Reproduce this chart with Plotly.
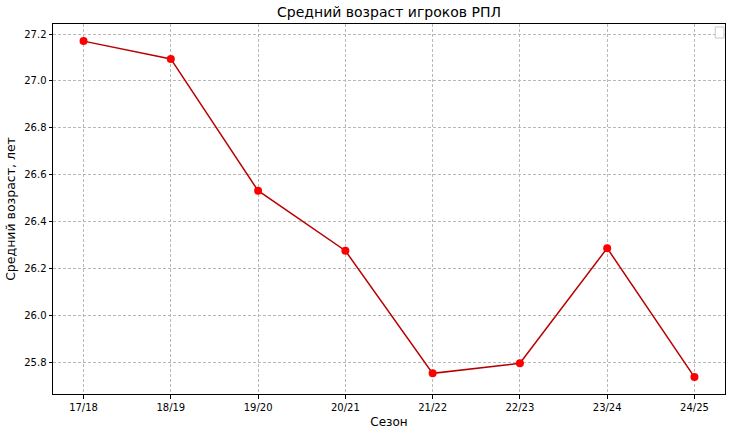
import plotly.graph_objects as go

seasons = ["17/18", "18/19", "19/20", "20/21", "21/22", "22/23", "23/24", "24/25"]
avg_age = [27.17, 27.094, 26.532, 26.276, 25.753, 25.796, 26.287, 25.737]
y_ticks = [25.8, 26.0, 26.2, 26.4, 26.6, 26.8, 27.0, 27.2]

fig = go.Figure()
fig.add_trace(go.Scatter(
    x=list(range(len(seasons))), y=avg_age, mode="lines+markers",
    line=dict(color="#b80000", width=1.5),
    marker=dict(color="#ff0000", size=8),
    showlegend=False,
))

W, H = 730, 439
fig.update_layout(
    width=W, height=H,
    margin=dict(l=53, r=5, t=24, b=45),
    paper_bgcolor="white", plot_bgcolor="white",
    font=dict(family="DejaVu Sans", color="black", size=10),
    title=dict(text="Средний возраст игроков РПЛ", x=0.5, xanchor="center",
               xref="paper", y=1 - 12 / H, yref="container", yanchor="middle",
               font=dict(size=14)),
    xaxis=dict(
        range=[-0.35, 7.35], tickmode="array",
        tickvals=list(range(len(seasons))), ticktext=seasons,
        showline=True, linecolor="black", linewidth=1, mirror=True,
        ticks="outside", ticklen=3.5, tickcolor="black",
        showgrid=True, gridcolor="#b8b8b8", griddash="3px,2px", gridwidth=0.8,
        zeroline=False, automargin=False,
        title=dict(text="Сезон", font=dict(size=12), standoff=6),
    ),
    yaxis=dict(
        range=[25.665, 27.243], tickmode="array",
        tickvals=y_ticks, ticktext=[f"{v:.1f}" for v in y_ticks],
        showline=True, linecolor="black", linewidth=1, mirror=True,
        ticks="outside", ticklen=3.5, tickcolor="black",
        showgrid=True, gridcolor="#b8b8b8", griddash="3px,2px", gridwidth=0.8,
        zeroline=False, automargin=False,
        title=dict(text="Средний возраст, лет", font=dict(size=12.5), standoff=5),
    ),
)

# empty legend box (as in the reference)
fig.add_shape(type="rect", xref="paper", yref="paper",
              x0=0.9855, x1=0.9985, y0=0.962, y1=0.992,
              line=dict(color="#c8c8c8", width=1), fillcolor="white",
              layer="above")

fig.write_html("out.html",
               config={"displayModeBar": False},
               post_script="document.body.style.margin='0';document.body.style.overflow='hidden';")
